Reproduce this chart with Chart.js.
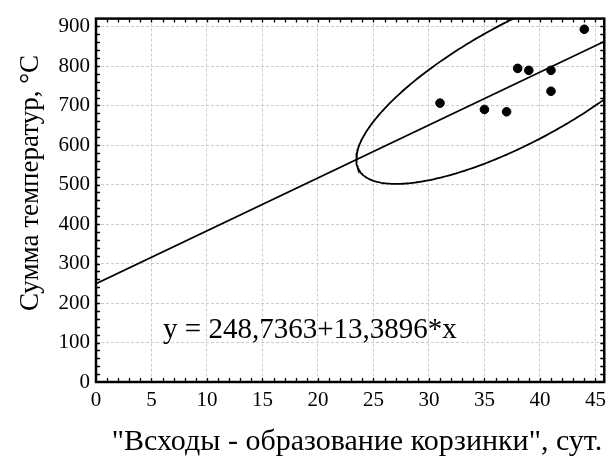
<!DOCTYPE html>
<html>
<head>
<meta charset="utf-8">
<script src="https://cdn.jsdelivr.net/npm/chart.js@4/dist/chart.umd.min.js"></script>
<style>
html,body{margin:0;padding:0;background:#fff;}
canvas{display:block;}
</style>
</head>
<body>
<canvas id="c" width="612" height="457"></canvas>
<script>
// ---- Data ----
const xValues = [31, 35, 37, 38, 39, 41, 41, 44];          // "Всходы - образование корзинки", сут.
const yValues = [706, 690, 684, 794, 789, 789, 736, 893];  // Сумма температур, °С
const intercept = 248.7363;
const slope = 13.3896;
const equationText = "y = 248,7363+13,3896*x";
const xTitle = '"Всходы - образование корзинки", сут.';
const yTitle = "Сумма температур, °С";
const xRange = [0, 45.8];
const yRange = [0, 920];
const confF = 5.143; // F(2, n-2, 0.95) for the 95% prediction ellipse

// ---- Derived: regression line and prediction ellipse from the data ----
const n = xValues.length;
const mx = xValues.reduce((a,b)=>a+b,0)/n;
const my = yValues.reduce((a,b)=>a+b,0)/n;
let sxx=0, syy=0, sxy=0;
for (let i=0;i<n;i++){ const dx=xValues[i]-mx, dy=yValues[i]-my; sxx+=dx*dx; syy+=dy*dy; sxy+=dx*dy; }
const sx = Math.sqrt(sxx/(n-1)), sy = Math.sqrt(syy/(n-1)), r = sxy/Math.sqrt(sxx*syy);
const k = Math.sqrt(2*(n-1)*(n+1)/(n*(n-2))*confF);
const ellipse = [];
for (let i=0;i<=360;i++){
  const t = i*Math.PI/180;
  ellipse.push({x: mx + k*sx*Math.cos(t), y: my + k*sy*(r*Math.cos(t) + Math.sqrt(1-r*r)*Math.sin(t))});
}
const regLine = [{x: xRange[0], y: intercept + slope*xRange[0]}, {x: xRange[1], y: intercept + slope*xRange[1]}];
const points = xValues.map((x,i)=>({x, y: yValues[i]}));

const serif = "Liberation Serif, serif";
Chart.defaults.font.family = serif;
Chart.defaults.font.size = 21;
Chart.defaults.color = '#000';

const framePlugin = {
  id: 'frame',
  afterDatasetsDraw(chart){
    const {ctx, chartArea: a, scales:{x, y}} = chart;
    ctx.save();
    ctx.strokeStyle = '#000';
    // minor + major ticks (inward) on all four sides
    ctx.lineWidth = 1.3;
    ctx.beginPath();
    for (let v=1; v<xRange[1]; v+=1){
      const px = Math.round(x.getPixelForValue(v))+0.5;
      ctx.moveTo(px, a.bottom); ctx.lineTo(px, a.bottom-4);
      ctx.moveTo(px, a.top); ctx.lineTo(px, a.top+4);
    }
    for (let v=20; v<yRange[1]; v+=20){
      const py = Math.round(y.getPixelForValue(v))+0.5;
      ctx.moveTo(a.left, py); ctx.lineTo(a.left+4, py);
      ctx.moveTo(a.right, py); ctx.lineTo(a.right-4, py);
    }
    ctx.stroke();
    // frame
    ctx.lineWidth = 2.5;
    ctx.strokeRect(a.left, a.top, a.right-a.left, a.bottom-a.top);
    ctx.restore();
  },
  afterDraw(chart){
    const {ctx, scales:{x, y}} = chart;
    ctx.save();
    ctx.fillStyle = '#000';
    // equation
    ctx.font = "29px " + serif;
    ctx.textAlign = 'left'; ctx.textBaseline = 'alphabetic';
    ctx.fillText(equationText, x.getPixelForValue(6.04), y.getPixelForValue(111.5));
    // x title
    ctx.font = "30px " + serif;
    ctx.textAlign = 'center'; ctx.textBaseline = 'alphabetic';
    ctx.fillText(xTitle, 357, 450);
    // y title
    ctx.translate(38, 183);
    ctx.rotate(-Math.PI/2);
    ctx.font = "27px " + serif;
    ctx.fillText(yTitle, 0, 0);
    ctx.restore();
  }
};

new Chart(document.getElementById('c'), {
  type: 'scatter',
  data: {
    datasets: [
      { data: points, backgroundColor: '#000', borderColor: '#000', pointRadius: 4.3, pointHoverRadius: 4.3, showLine: false, order: 0 },
      { data: regLine, showLine: true, borderColor: '#000', borderWidth: 1.8, pointRadius: 0, fill: false, order: 1 },
      { data: ellipse, showLine: true, borderColor: '#000', borderWidth: 1.8, pointRadius: 0, fill: false, tension: 0, order: 2 }
    ]
  },
  options: {
    responsive: false,
    animation: false,
    devicePixelRatio: 1,
    layout: { padding: { top: 11, right: 7, left: 0, bottom: 0 } },
    plugins: { legend: { display: false }, tooltip: { enabled: false } },
    scales: {
      x: {
        type: 'linear', min: xRange[0], max: xRange[1],
        ticks: { stepSize: 5, includeBounds: false, color: '#000', font: { family: serif, size: 21 }, padding: 6, maxRotation: 0, autoSkip: false },
        grid: { color: '#cccccc', lineWidth: 1, drawTicks: false },
        border: { display: false, dash: [3,2] },
        afterFit(s){ s.height = 75; }
      },
      y: {
        type: 'linear', min: yRange[0], max: yRange[1],
        ticks: { stepSize: 100, includeBounds: false, color: '#000', font: { family: serif, size: 21 }, padding: 6, autoSkip: false },
        grid: { color: '#cccccc', lineWidth: 1, drawTicks: false },
        border: { display: false, dash: [3,2] },
        afterFit(s){ s.width = 96; }
      }
    }
  },
  plugins: [framePlugin]
});
</script>
</body>
</html>
